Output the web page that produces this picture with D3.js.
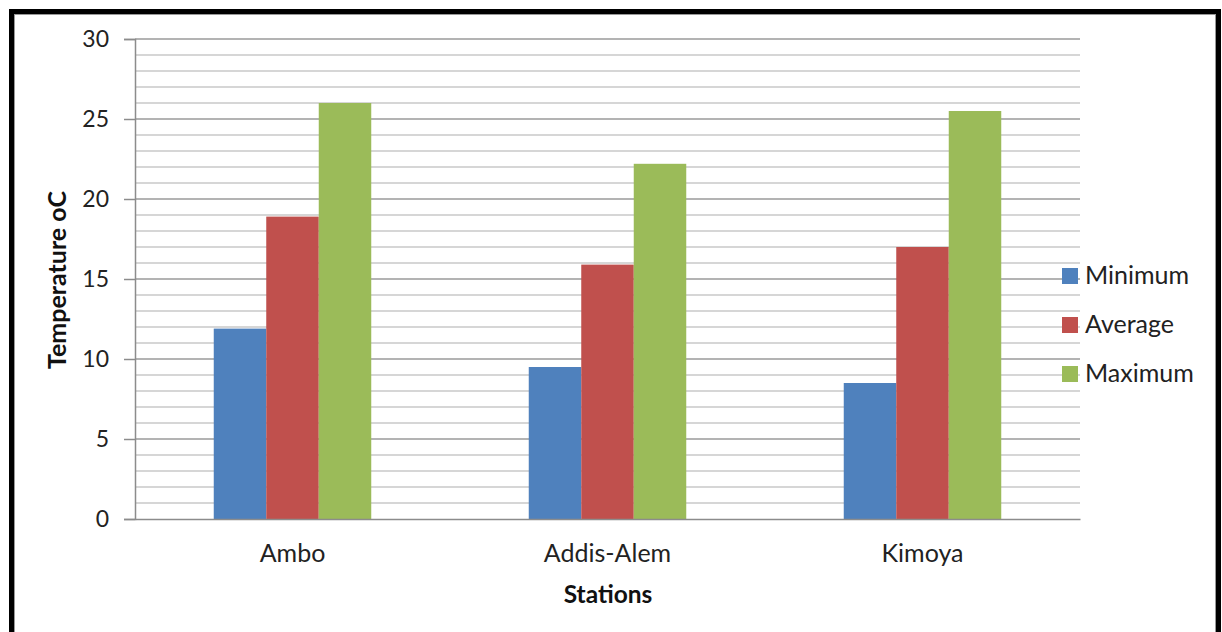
<!DOCTYPE html>
<html>
<head>
<meta charset="utf-8">
<script src="https://cdn.jsdelivr.net/npm/d3@7"></script>
<style>
  html, body { margin: 0; padding: 0; background: #fff; }
  svg { display: block; font-family: Lato, "Open Sans", sans-serif; }
</style>
</head>
<body>
<svg id="chart" width="1222" height="632"></svg>
<script>
// Mean annual temperature by station
const stations = ["Ambo", "Addis-Alem", "Kimoya"];
const seriesNames = ["Minimum", "Average", "Maximum"];
const minimum = [11.9, 9.5, 8.5];
const average = [18.9, 15.9, 17.0];
const maximum = [26.0, 22.2, 25.5];
const yTicks = [0, 5, 10, 15, 20, 25, 30];
const colors = ["#4F81BD", "#C0504D", "#9BBB59"];

const series = [minimum, average, maximum];

const svg = d3.select("#chart");

// outer frame
svg.append("rect")
  .attr("x", 11.5).attr("y", 11.5)
  .attr("width", 1207).attr("height", 640)
  .attr("fill", "#fff").attr("stroke", "#000").attr("stroke-width", 5);
svg.append("rect")
  .attr("x", 14.5).attr("y", 14.5)
  .attr("width", 1201).attr("height", 640)
  .attr("fill", "none").attr("stroke", "#999").attr("stroke-width", 1);

const plot = { left: 135, right: 1080, top: 39, bottom: 519 };

const x = d3.scaleBand().domain(stations).range([plot.left, plot.right]);
// each cluster takes half of its band, centered
const groupWidth = x.bandwidth() / 2;
const xs = d3.scaleBand().domain(seriesNames).range([0, groupWidth]);

const y = d3.scaleLinear().domain([0, 30]).range([plot.bottom, plot.top]);

// minor gridlines every 1 unit
const minor = d3.range(1, 31).filter(v => v % 5 !== 0);
svg.append("g").selectAll("line").data(minor).join("line")
  .attr("x1", plot.left).attr("x2", plot.right)
  .attr("y1", d => y(d)).attr("y2", d => y(d))
  .attr("stroke", "#c8c8c8").attr("stroke-width", 1.5);

// major gridlines
svg.append("g").selectAll("line").data(yTicks.filter(v => v > 0)).join("line")
  .attr("x1", plot.left).attr("x2", plot.right)
  .attr("y1", d => y(d)).attr("y2", d => y(d))
  .attr("stroke", "#9a9a9a").attr("stroke-width", 1.5);

// bars
const groups = svg.append("g").selectAll("g").data(stations).join("g")
  .attr("transform", d => `translate(${x(d) + (x.bandwidth() - groupWidth) / 2},0)`);
groups.selectAll("rect")
  .data((d, i) => seriesNames.map((s, j) => ({ s, j, v: series[j][i] })))
  .join("rect")
  .attr("x", d => xs(d.s))
  .attr("width", xs.bandwidth())
  .attr("y", d => y(d.v))
  .attr("height", d => y(0) - y(d.v))
  .attr("fill", d => colors[d.j]);

// y axis
const yAxis = d3.axisLeft(y).tickValues(yTicks).tickSize(11).tickPadding(15);
const gy = svg.append("g").attr("transform", `translate(${plot.left},0)`).call(yAxis);
gy.select(".domain").attr("stroke", "#8c8c8c").attr("stroke-width", 1.5);
gy.selectAll(".tick line").attr("stroke", "#8c8c8c").attr("stroke-width", 1.5);
gy.selectAll(".tick text").attr("font-size", 23).attr("fill", "#222")
  .attr("font-family", "Lato, sans-serif");

// x axis
const xAxis = d3.axisBottom(x).tickSize(0).tickPadding(25);
const gx = svg.append("g").attr("transform", `translate(0,${plot.bottom})`).call(xAxis);
gx.select(".domain").attr("stroke", "#8c8c8c").attr("stroke-width", 1.5);
gx.selectAll(".tick text").attr("font-size", 25).attr("fill", "#222")
  .attr("font-family", "Lato, sans-serif");

// axis titles
svg.append("text")
  .attr("x", 608).attr("y", 603)
  .attr("text-anchor", "middle")
  .attr("font-size", 24.5).attr("font-weight", "bold").attr("fill", "#111")
  .text("Stations");
svg.append("text")
  .attr("transform", "translate(66,280) rotate(-90)")
  .attr("text-anchor", "middle")
  .attr("font-size", 25).attr("font-weight", "bold").attr("fill", "#111")
  .text("Temperature oC");

// legend
const legend = svg.append("g").selectAll("g").data(seriesNames).join("g")
  .attr("transform", (d, i) => `translate(1062,${268 + i * 49})`);
legend.append("rect")
  .attr("width", 16).attr("height", 16)
  .attr("fill", (d, i) => colors[i]);
legend.append("text")
  .attr("x", 23).attr("y", 16)
  .attr("font-size", 25).attr("fill", "#222")
  .text(d => d);
</script>
</body>
</html>
